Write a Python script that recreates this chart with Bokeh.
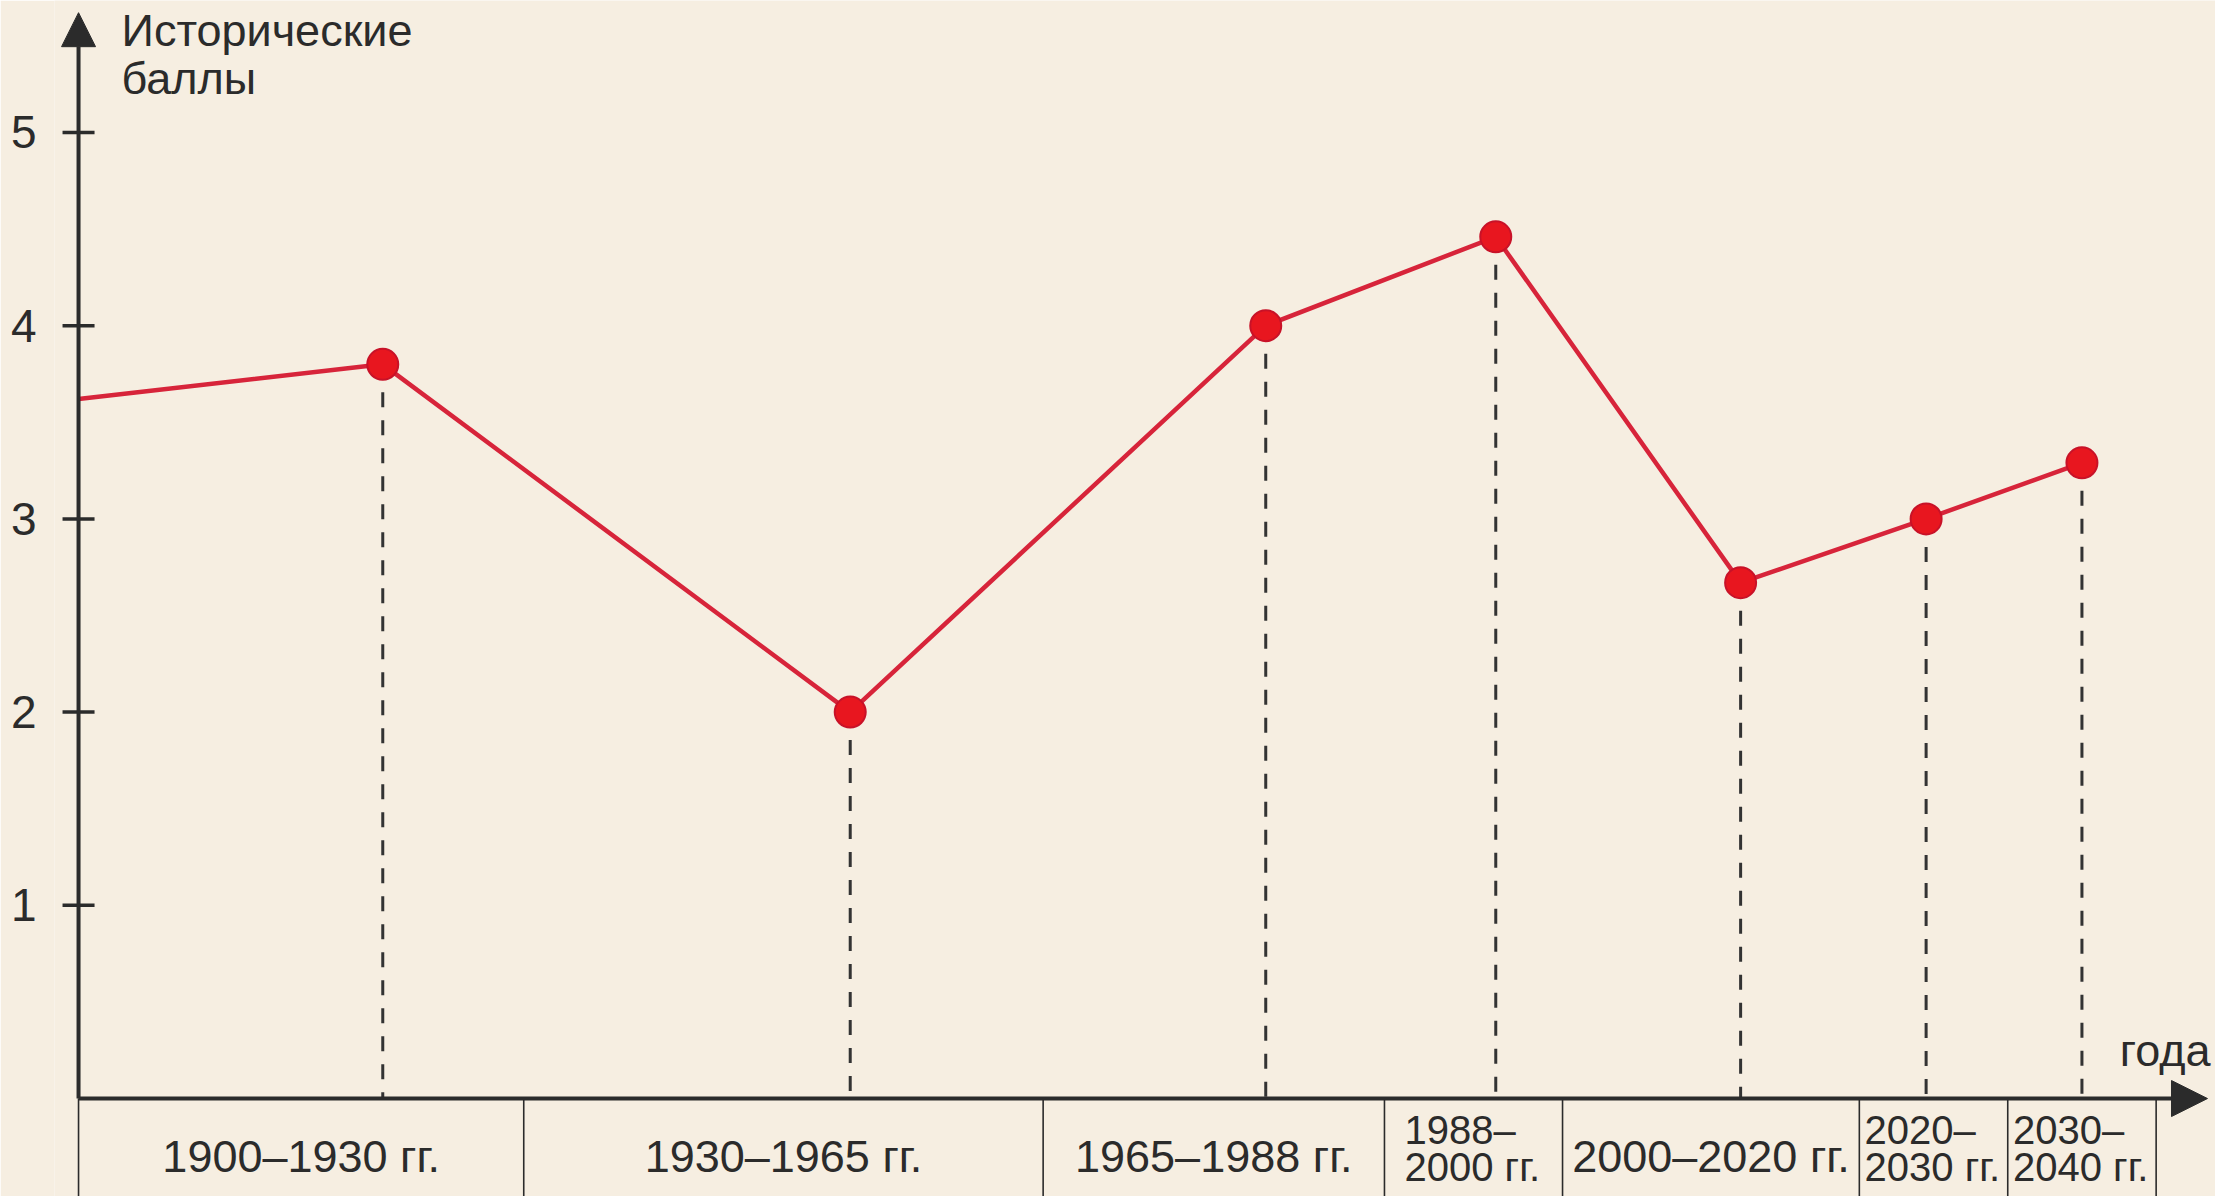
from bokeh.plotting import figure
from bokeh.models import (LinearAxis, FixedTicker, Range1d, Arrow, NormalHead,
                          Label, ColumnDataSource)
from bokeh.core.properties import value
from bokeh.embed import file_html
from bokeh.resources import INLINE

# ---- data ----
point_years = [1920.5, 1952.0, 1980.0, 1995.5, 2012.0, 2024.5, 2035.0]
point_scores = [3.80, 2.00, 4.00, 4.46, 2.67, 3.00, 3.29]
start_year = 1900
start_score = 3.62

period_bounds = [1900, 1930, 1965, 1988, 2000, 2020, 2030, 2040]
period_labels = ["1900–1930 гг.", "1930–1965 гг.", "1965–1988 гг.",
                 "1988–\n2000 гг.", "2000–2020 гг.", "2020–\n2030 гг.",
                 "2030–\n2040 гг."]
y_ticks = [1, 2, 3, 4, 5]
y_title = "Исторические\nбаллы"
x_title = "года"

BG = "#f6eee1"
DARK = "#2b2b2b"
RED = "#d7243a"
FONT = "Liberation Sans"

x0, x1 = 1898.38, 2044.0
y0, y1 = -0.507, 5.683
y_arrow_end = 5.62
x_arrow_end = 2043.46
origin = period_bounds[0]

p = figure(width=2215, height=1196, output_backend="svg", toolbar_location=None,
           x_range=Range1d(x0, x1), y_range=Range1d(y0, y1),
           x_axis_location=None, y_axis_location=None,
           min_border_left=54, min_border_right=0, min_border_top=0,
           min_border_bottom=0)
p.background_fill_color = BG
p.border_fill_color = BG
p.outline_line_color = None
p.xgrid.visible = False
p.ygrid.visible = False

# y axis tick labels
ax = LinearAxis(ticker=FixedTicker(ticks=y_ticks))
ax.axis_line_color = None
ax.major_tick_line_color = None
ax.major_tick_in = 0
ax.major_tick_out = 0
ax.minor_tick_line_color = None
ax.major_label_standoff = 18
ax.major_label_text_font = FONT
ax.major_label_text_font_size = "46px"
ax.major_label_text_color = DARK
p.add_layout(ax, "left")

# y axis line with arrow + tick marks
p.add_layout(Arrow(end=NormalHead(size=34, fill_color=DARK, line_color=DARK),
                   x_start=origin, y_start=0, x_end=origin, y_end=y_arrow_end,
                   line_width=4, line_color=DARK))
p.scatter(x=[origin] * len(y_ticks), y=y_ticks, marker="dash", size=32,
          line_color=DARK, line_width=3.5)

# category separators and labels
mids = [(a + b) / 2 for a, b in zip(period_bounds[:-1], period_bounds[1:])]
p.segment(x0=period_bounds, y0=[0] * len(period_bounds),
          x1=period_bounds, y1=[y0] * len(period_bounds),
          line_color=DARK, line_width=1.6)

single = [(m, t) for m, t in zip(mids, period_labels) if "\n" not in t]
double = [(m, t) for m, t in zip(mids, period_labels) if "\n" in t]
p.text(x=[m for m, _ in single], y=[-0.30] * len(single),
       text=[t for _, t in single], text_align="center",
       text_baseline="alphabetic", text_font=value(FONT),
       text_font_size="45px", text_color=DARK)
p.text(x=[m for m, _ in double], y=[-0.258] * len(double),
       text=[t for _, t in double], text_align="left", x_offset=-69,
       text_baseline="middle", text_font=value(FONT),
       text_font_size="40px", text_color=DARK, text_line_height=0.85)

# x axis line with arrow
p.add_layout(Arrow(end=NormalHead(size=36, fill_color=DARK, line_color=DARK),
                   x_start=origin, y_start=0, x_end=x_arrow_end, y_end=0,
                   line_width=4, line_color=DARK))

# titles
p.add_layout(Label(x=origin, y=y1, x_offset=43, y_offset=-4, text=y_title,
                   text_baseline="top", text_align="left",
                   text_font=FONT, text_font_size="45px",
                   text_color=DARK, text_line_height=0.96))
p.add_layout(Label(x=x_arrow_end, y=0, x_offset=3, y_offset=48, text=x_title,
                   text_baseline="alphabetic", text_align="right",
                   text_font=FONT, text_font_size="45px",
                   text_color=DARK))

# dashed drops
p.segment(x0=point_years, y0=point_scores, x1=point_years,
          y1=[0] * len(point_years), line_color="#333333", line_width=3,
          line_dash="15 13")

# series
src = ColumnDataSource(dict(x=[start_year] + point_years,
                            y=[start_score] + point_scores))
p.line("x", "y", source=src, line_color=RED, line_width=4.5)
p.scatter(point_years, point_scores, size=31, fill_color="#e8161f",
          line_color="#c81228", line_width=2)

open("out.html", "w").write(file_html(p, INLINE))
